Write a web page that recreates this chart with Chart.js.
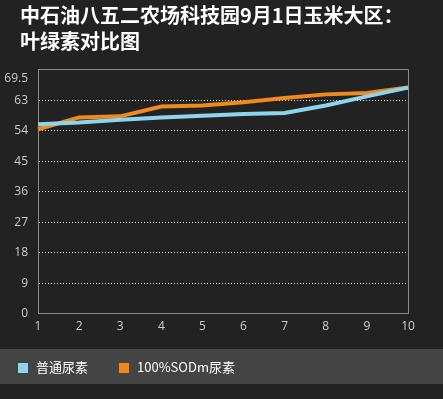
<!DOCTYPE html>
<html>
<head>
<meta charset="utf-8">
<script src="https://cdn.jsdelivr.net/npm/chart.js@4"></script>
<style>
  html, body { margin: 0; padding: 0; background: #222222; }
  #wrap { position: relative; width: 443px; height: 399px; overflow: hidden; }
  #title { position: absolute; left: 20px; top: 2px; color: #fff; font: bold 20px "Noto Sans CJK SC", sans-serif; line-height: 26px; }
  #band { position: absolute; left: 0; top: 349px; width: 443px; height: 35px; background: #444444; }
  #chart { position: absolute; left: 0; top: 0; }
</style>
</head>
<body>
<div id="wrap">
  <div id="band"></div>
  <canvas id="chart" width="443" height="399"></canvas>
  <div id="title">中石油八五二农场科技园9月1日玉米大区：<br>叶绿素对比图</div>
</div>
<script>
const labels = ['1', '2', '3', '4', '5', '6', '7', '8', '9', '10'];
const putong = [56, 56.5, 57.3, 58, 58.5, 59, 59.3, 61.5, 64.2, 66.8];
const sodm = [54.5, 58, 58.3, 61.2, 61.5, 62.5, 63.7, 64.8, 65.2, 66.8];
const yTicks = [0, 9, 18, 27, 36, 45, 54, 63, 69.5];

// gray frame on top and right of the plot
const frame = {
    id: 'frame',
    beforeDatasetsDraw(chart) {
        const { ctx, chartArea: a } = chart;
        ctx.save();
        ctx.strokeStyle = '#8a8a8a';
        ctx.lineWidth = 1;
        ctx.beginPath();
        ctx.moveTo(a.left, a.top + 0.5);
        ctx.lineTo(a.right + 0.5, a.top + 0.5);
        ctx.lineTo(a.right + 0.5, a.bottom);
        ctx.stroke();
        ctx.restore();
    }
};

// legend in the band under the chart
const bandLegend = {
    id: 'bandLegend',
    afterDraw(chart) {
        const { ctx } = chart;
        ctx.save();
        ctx.font = '13px "Noto Sans CJK SC"';
        ctx.textBaseline = 'middle';
        let x = 18;
        chart.data.datasets.forEach((ds) => {
            ctx.fillStyle = ds.borderColor;
            ctx.fillRect(x, 363, 10, 10);
            ctx.fillStyle = '#ffffff';
            ctx.fillText(ds.label, x + 18, 367);
            x += 18 + ctx.measureText(ds.label).width + 31;
        });
        ctx.restore();
    }
};

new Chart(document.getElementById('chart'), {
    type: 'line',
    data: {
        labels,
        datasets: [
            { label: '普通尿素', data: putong, borderColor: '#8dd4ee', backgroundColor: '#8dd4ee', borderWidth: 4, pointRadius: 0, tension: 0 },
            { label: '100%SODm尿素', data: sodm, borderColor: '#f08a1e', backgroundColor: '#f08a1e', borderWidth: 4, pointRadius: 0, tension: 0 }
        ]
    },
    options: {
        responsive: false,
        animation: false,
        layout: { padding: { top: 69, right: 35, left: 0, bottom: 67 } },
        plugins: {
            tooltip: { enabled: false },
            legend: { display: false }
        },
        scales: {
            x: {
                offset: false,
                grid: { display: false },
                border: { color: '#8a8a8a', width: 1 },
                ticks: { color: '#cccccc', font: { family: 'Open Sans', size: 12 }, padding: -2, maxRotation: 0 }
            },
            y: {
                min: 0,
                max: 72.3,
                afterBuildTicks(scale) { scale.ticks = yTicks.map(v => ({ value: v })); },
                afterFit(scale) { scale.width = 38; },
                grid: {
                    color: c => (c.tick && (c.tick.value === 69.5 || c.tick.value === 0)) ? 'rgba(0,0,0,0)' : '#ffffff',
                    drawTicks: false
                },
                border: { color: '#8a8a8a', width: 1, dash: [1, 2] },
                ticks: { color: '#cccccc', font: { family: 'Open Sans', size: 12 }, padding: 10 }
            }
        }
    },
    plugins: [frame, bandLegend]
});
</script>
</body>
</html>
